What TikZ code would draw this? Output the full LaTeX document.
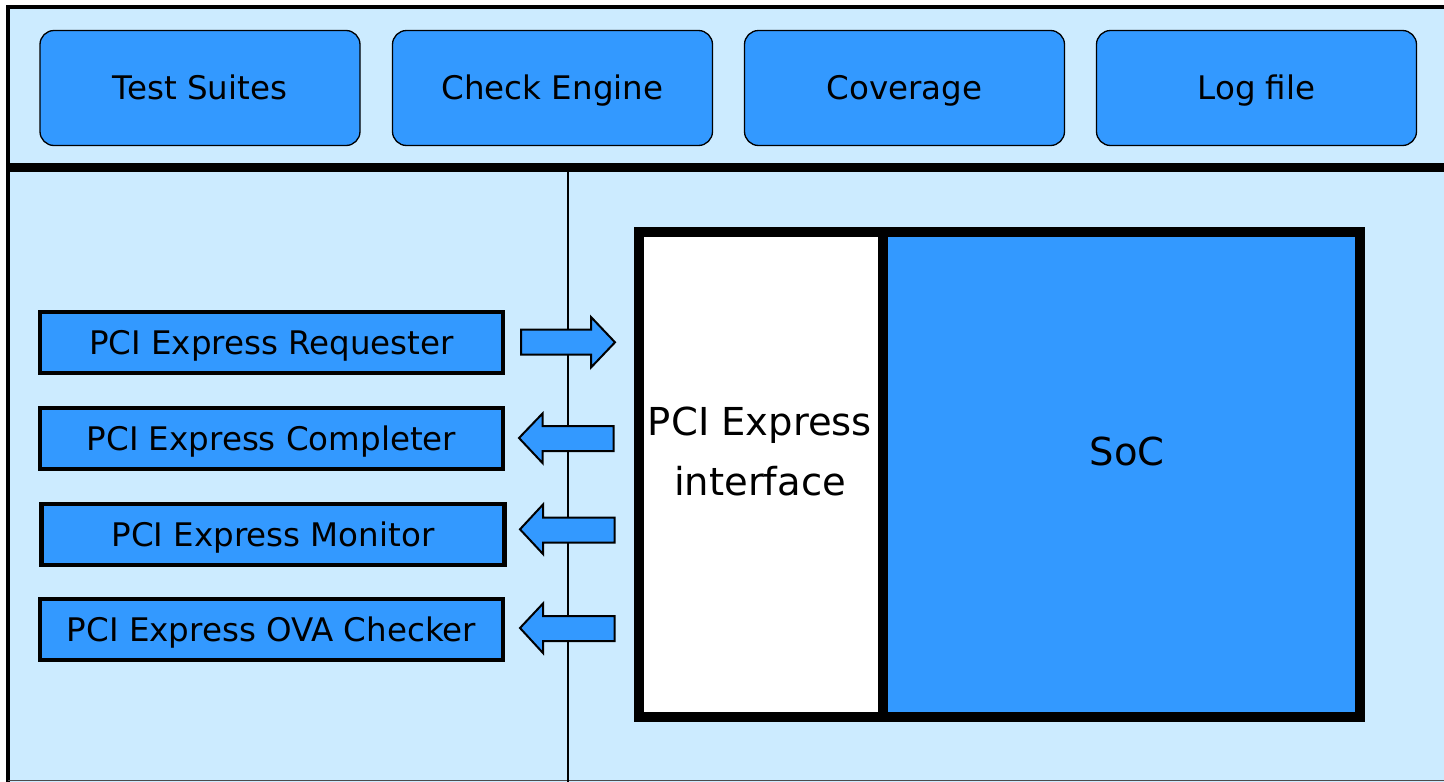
\documentclass[tikz,border=0pt]{standalone}
\usepackage{fontspec}
\setmainfont{DejaVu Sans}
\definecolor{lightbg}{HTML}{CCEBFF}
\definecolor{boxblue}{HTML}{3399FF}
\begin{document}
\begin{tikzpicture}[x=1pt,y=-1pt,
  topbox/.style={draw=black, line width=1.3pt, fill=boxblue, rounded corners=14pt,
    minimum width=320pt, minimum height=115pt, inner sep=0pt,
    text height=23.7pt, text depth=0pt,
    font=\fontsize{32.5}{38}\selectfont},
  sidebox/.style={draw=black, line width=4.5pt, fill=boxblue,
    minimum width=463pt, minimum height=61pt, inner sep=0pt,
    text height=23.7pt, text depth=0pt,
    font=\fontsize{32.5}{38}\selectfont},
  blockarrow/.style={draw=black, line width=2pt, fill=boxblue, line join=miter},
  bigtext/.style={font=\fontsize{38.5}{60}\selectfont, align=center}
]
\useasboundingbox (0,0) rectangle (1444,782);
% background
\fill[lightbg] (8,7) rectangle (1444,782);
\draw[line width=4.5pt] (8,782) -- (8,7.2) -- (1444,7.2);
\draw[line width=1pt, black!70] (8,780.5) -- (1444,780.5);
\draw[line width=9pt] (8,167) -- (1444,167);
\draw[line width=1.3pt] (568,171) -- (568,782);

% top boxes
\node[topbox] (ts) at (200,88) {Test Suites};
\node[topbox] (ce) at (552.5,88) {Check Engine};
\node[topbox] (cov) at (904.5,88) {Coverage};
\node[topbox] (log) at (1256.5,88) {Log file};

% side boxes
\node[sidebox] (req) at (271.5,342.5) {PCI Express Requester};
\node[sidebox] (comp) at (271.5,438.5) {PCI Express Completer};
\node[sidebox] (mon) at (273,534.5) {PCI Express Monitor};
\node[sidebox] (ova) at (271.5,629.5) {PCI Express OVA Checker};

% interface and SoC
\node[draw=black, line width=10pt, fill=white, minimum width=244.5pt, minimum height=485pt, inner sep=0pt] (pif) at (760.75,474) {};
\node[draw=black, line width=10pt, fill=boxblue, minimum width=477pt, minimum height=485pt, inner sep=0pt] (soc) at (1121.5,474) {};
\node[bigtext] (piftext) at (760,451) {PCI Express\\interface};
\node[bigtext] (soctext) at (1127,451) {SoC};

% block arrows
\draw[blockarrow] (521,329.5) -- (591,329.5) -- (591,317) -- (615,342.3) -- (591,367.5) -- (591,354.5) -- (521,354.5) -- cycle;
\draw[blockarrow] (613.5,426) -- (542.5,426) -- (542.5,413.5) -- (519,438) -- (542.5,463) -- (542.5,451) -- (613.5,451) -- cycle;
\draw[blockarrow] (614.5,517.5) -- (543,517.5) -- (543,504.5) -- (520,529.3) -- (543,554) -- (543,542.5) -- (614.5,542.5) -- cycle;
\draw[blockarrow] (614.5,616) -- (543,616) -- (543,603.5) -- (520,628) -- (543,653) -- (543,641) -- (614.5,641) -- cycle;
\end{tikzpicture}
\end{document}
